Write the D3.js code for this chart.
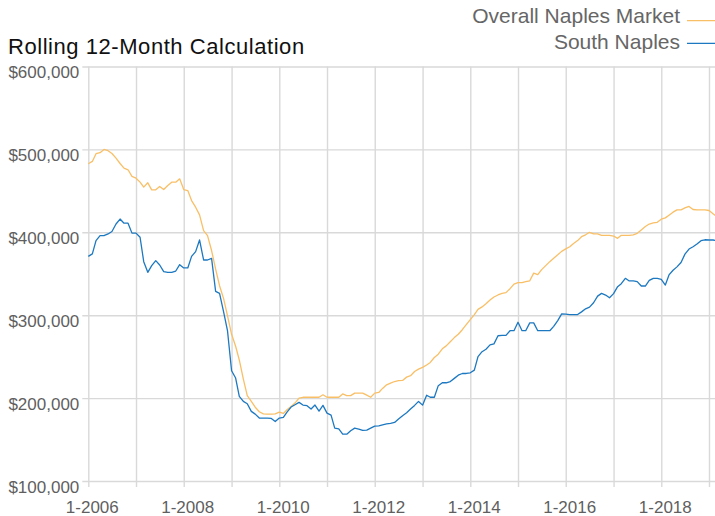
<!DOCTYPE html>
<html>
<head>
<meta charset="utf-8">
<script src="https://cdn.jsdelivr.net/npm/d3@7"></script>
<style>
  html, body { margin: 0; padding: 0; background: #fff; overflow: hidden; }
  svg { display: block; font-family: "Liberation Sans", Arial, Helvetica, sans-serif; }
</style>
</head>
<body>
<svg id="chart" width="715" height="516"></svg>
<script>
// Monthly rolling 12-month median closed price, in thousands of dollars,
// starting January 2006.
const firstMonth = new Date(2006, 0, 1);

const overallNaples = [
  482.7, 485.5, 494.8, 496, 500, 498.4, 495, 489.5, 483, 477.4, 475.4, 467.4,
  465.3, 460.5, 454.5, 459.7, 451.2, 451.2, 455.3, 451.6, 456.5, 460.5, 460.5, 464.5,
  451.6, 450.4, 438.3, 430.3, 421, 402, 396, 378, 355.7, 335.6, 320, 299.3,
  277, 262.5, 246, 223, 203, 196, 189, 183.5, 181, 180.7, 180.7, 181,
  183, 181.5, 186, 190, 194, 200, 201, 201, 201, 201, 201, 204,
  201, 201, 201, 201, 205, 203, 203, 206, 206, 206, 203.6, 201,
  206, 206.8, 211.7, 216, 218, 220, 221, 221.3, 225.3, 227, 232, 235,
  237, 240, 243, 249, 253, 259.5, 263, 268, 273, 277, 282.5, 288.6,
  294.7, 300.8, 307, 310, 313.8, 318.3, 322, 324.4, 326.4, 327.2, 332, 337.4,
  339.4, 339.4, 340.6, 341.5, 350.8, 349, 355, 359.8, 364.6, 368.7, 372.8, 377,
  380, 382.6, 386.6, 390, 394.7, 397, 400, 398, 398, 396.4, 396.4, 396.4,
  395.5, 392.7, 396.4, 396.4, 396.4, 397, 398.8, 402.8, 406.9, 410, 411.3, 412,
  415.8, 417.4, 420.6, 424.3, 427, 427, 429.5, 431.2, 427.5, 427, 427, 427,
  426.3, 422.3, 419
];

const southNaples = [
  371, 374, 390, 396, 396, 398, 401, 410, 416, 411, 411, 399,
  399, 394, 364.6, 351.7, 359.8, 365.8, 360.6, 352.5, 351.7, 351.7, 353.3, 361,
  357, 357, 371, 376.7, 390.8, 366.6, 366.6, 368.6, 328.7, 326.3, 304, 281,
  233, 224.2, 202, 196, 193.2, 184, 180.7, 175.9, 175.9, 175.9, 175.5, 171.8,
  175.9, 176.7, 183.1, 189.2, 192, 194.8, 191.6, 190.8, 186.8, 191.6, 184.3, 191.2,
  181.9, 179.5, 163.8, 163, 156.5, 156.5, 160.6, 163.8, 162.6, 161, 161.4, 163.8,
  166.2, 166.6, 167.8, 169, 169.4, 170.6, 174.7, 178.7, 182.3, 186.8, 191.2, 196,
  191.5, 203.5, 201, 201, 215, 218.5, 218.5, 220, 223.8, 227.6, 229.7, 229.7,
  230.5, 233.7, 250, 256, 259, 264.2, 265.4, 275.2, 275.6, 275.6, 281.3, 281.3,
  291.5, 281.3, 281.3, 290.7, 290.7, 281.3, 281.3, 281.3, 281.3, 286.6, 293.5, 301.6,
  301.2, 300.8, 300.8, 300.8, 304, 307.7, 309.7, 315, 323, 326.3, 324.3, 321,
  326, 334.4, 338, 344.5, 341.3, 341.3, 340.5, 335.2, 335.2, 342, 344.5, 344.5,
  343.3, 336.4, 348.6, 354.2, 358.3, 363.6, 373.7, 379.8, 382.6, 385.8, 389.9, 391,
  390.7, 390.7, 390
];

const seriesNames = ["Overall Naples Market", "South Naples"];
const seriesColors = ["#f9bf66", "#1c78c0"];
const yTickValues = [100000, 200000, 300000, 400000, 500000, 600000];
const xLabelYears = [2006, 2008, 2010, 2012, 2014, 2016, 2018];
const subtitle = "Rolling 12-Month Calculation";

const svg = d3.select("#chart");
const W = 715, H = 516;
const plot = { left: 88.3, right: 709, top: 66.5, bottom: 481 };

const x = d3.scaleTime()
  .domain([new Date(2006, 0, 1), new Date(2019, 0, 1)])
  .range([plot.left, plot.right]);
const y = d3.scaleLinear()
  .domain([100000, 600000])
  .range([plot.bottom, plot.top]);

const monthOf = i => d3.timeMonth.offset(firstMonth, i);
const toPoints = arr => arr.map((v, i) => ({ date: monthOf(i), value: v * 1000 }));
const series = [toPoints(overallNaples), toPoints(southNaples)];

const grid = "#d9d9d9";

// Horizontal grid with short left ticks
const yAxis = d3.axisLeft(y)
  .tickValues(yTickValues)
  .tickSize(-(W - plot.left) - 2)
  .tickPadding(0)
  .tickFormat(d => "$" + d3.format(",")(d));
const gy = svg.append("g")
  .attr("transform", `translate(${plot.left - 6},0)`)
  .call(yAxis);
gy.select(".domain").remove();
gy.selectAll(".tick line")
  .attr("x1", 0)
  .attr("x2", W - plot.left + 6)
  .attr("stroke", grid)
  .attr("stroke-width", 1.4);
gy.selectAll(".tick text")
  .attr("x", -3)
  .attr("dy", 0)
  .attr("y", 11)
  .attr("fill", "#5f5f5f")
  .attr("font-size", 17)
  .attr("font-family", "Liberation Sans, Arial, sans-serif");

// Vertical yearly grid extending slightly below the baseline
const xAxis = d3.axisBottom(x)
  .ticks(d3.timeYear.every(1))
  .tickSize(-(plot.bottom - plot.top) - 0)
  .tickFormat("");
const gx = svg.append("g")
  .attr("transform", `translate(0,${plot.bottom})`)
  .call(xAxis);
gx.select(".domain").remove();
gx.selectAll(".tick line")
  .attr("y1", 6)
  .attr("y2", -(plot.bottom - plot.top))
  .attr("stroke", grid)
  .attr("stroke-width", 1.4);

// Year labels on every other January
svg.append("g").selectAll("text")
  .data(xLabelYears)
  .join("text")
  .attr("x", d => x(new Date(d, 0, 1)) + 4)
  .attr("y", 513)
  .attr("text-anchor", "middle")
  .attr("fill", "#5f5f5f")
  .attr("font-size", 17)
  .text(d => "1-" + d);

// Lines
const line = d3.line()
  .x(d => x(d.date))
  .y(d => y(d.value));
svg.append("g").selectAll("path")
  .data(series)
  .join("path")
  .attr("d", line)
  .attr("fill", "none")
  .attr("stroke", (d, i) => seriesColors[i])
  .attr("stroke-width", 1.3)
  .attr("stroke-linejoin", "round");

// Subtitle
svg.append("text")
  .attr("x", 8)
  .attr("y", 53.5)
  .attr("fill", "#111")
  .attr("font-size", 22)
  .attr("letter-spacing", 0.55)
  .text(subtitle);

// Legend, right aligned
const legend = svg.append("g");
const legendRows = [
  { name: seriesNames[0], color: seriesColors[0], base: 22.7, lineY: 20.7 },
  { name: seriesNames[1], color: seriesColors[1], base: 49.3, lineY: 43.3 }
];
legendRows.forEach(r => {
  legend.append("text")
    .attr("x", 680)
    .attr("y", r.base)
    .attr("text-anchor", "end")
    .attr("fill", "#666")
    .attr("font-size", 21)
    .text(r.name);
  legend.append("line")
    .attr("x1", 687).attr("x2", 720)
    .attr("y1", r.lineY).attr("y2", r.lineY)
    .attr("stroke", r.color)
    .attr("stroke-width", 1.3);
});
</script>
</body>
</html>
